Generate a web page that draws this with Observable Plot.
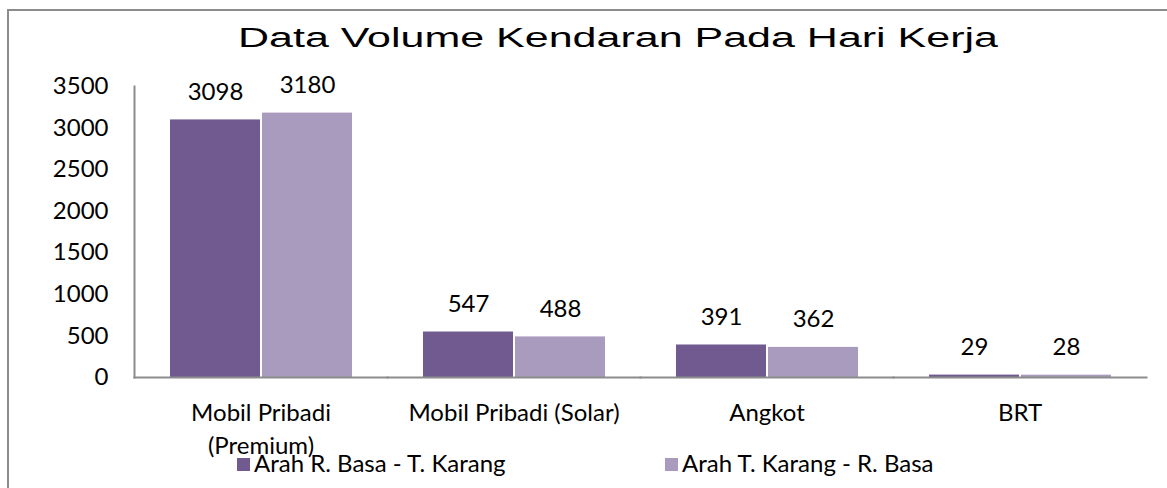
<!DOCTYPE html>
<html>
<head>
<meta charset="utf-8">
<script src="https://cdn.jsdelivr.net/npm/d3@7"></script>
<script src="https://cdn.jsdelivr.net/npm/@observablehq/plot@0.6"></script>
<style>
  body { margin: 0; background: #fff; }
  #wrap { position: relative; width: 1167px; height: 488px; overflow: hidden; background: #fff; }
  #frame { position: absolute; left: 7px; top: 9px; width: 1200px; height: 520px;
           border-left: 2px solid #8c8c8c; border-top: 2px solid #8c8c8c; box-sizing: border-box; }
  #title { position: absolute; left: 618px; top: 23px; font-family: "Liberation Sans", Arial, sans-serif;
           font-size: 27px; line-height: 30px; white-space: nowrap; color: #000; transform-origin: 50% 50%; }
  #chart { position: absolute; left: 0; top: 58px; }
  .leg { position: absolute; font-family: Lato, sans-serif; font-size: 24px; line-height: 24px; white-space: nowrap; color: #000; }
  .leg .sw { display: inline-block; width: 13px; height: 13px; margin-right: 4px; vertical-align: 1px; }
</style>
</head>
<body>
<div id="wrap">
  <div id="frame"></div>
  <div id="title"></div>
  <div id="chart"></div>
  <div id="legend"></div>
</div>
<script>
const titleText = "Data Volume Kendaran Pada Hari Kerja";
const categories = ["Mobil Pribadi (Premium)", "Mobil Pribadi (Solar)", "Angkot", "BRT"];
const tickLabels = ["Mobil Pribadi\n(Premium)", "Mobil Pribadi (Solar)", "Angkot", "BRT"];
const series = ["Arah R. Basa - T. Karang", "Arah T. Karang - R. Basa"];
const valuesRBasaTKarang = [3098, 547, 391, 29];
const valuesTKarangRBasa = [3180, 488, 362, 28];
const seriesColors = ["#715a8f", "#a99bbd"];
const yTicks = [0, 500, 1000, 1500, 2000, 2500, 3000, 3500];

const data = categories.flatMap((c, i) => [
  {category: c, series: series[0], value: valuesRBasaTKarang[i]},
  {category: c, series: series[1], value: valuesTKarangRBasa[i]}
]);

// title (stretched horizontally like the reference)
const t = document.getElementById("title");
t.textContent = titleText;
const w = t.getBoundingClientRect().width;
t.style.transform = `translateX(-50%) scaleX(${760 / w})`;

const chart = Plot.plot({
  width: 1167,
  height: 390,
  marginLeft: 133,
  marginRight: 21,
  marginTop: 28,
  marginBottom: 71,
  style: {fontFamily: "Lato, sans-serif", fontSize: "24px", color: "#000", background: "transparent", overflow: "visible"},
  fx: {domain: categories, padding: 0, label: null},
  x: {domain: series, paddingInner: 0.022, paddingOuter: 0.386, axis: null},
  y: {domain: [0, 3500], label: null},
  color: {domain: series, range: seriesColors},
  marks: [
    Plot.barY(data, {fx: "category", x: "series", y: "value", fill: "series"}),
    Plot.text(data, {fx: "category", x: "series", y: "value", text: d => String(d.value), dy: -28, fontSize: 24, fill: "#000"}),
    Plot.axisY({ticks: yTicks, tickFormat: d => String(d), tickSize: 0, tickPadding: 26, label: null, fontSize: 24, fill: "#000"}),
    Plot.axisFx({anchor: "bottom", tickSize: 0, tickPadding: 20, label: null, fontSize: 24, lineHeight: 1.38,
                 tickFormat: d => tickLabels[categories.indexOf(d)], fill: "#000"}),
    Plot.frame({anchor: "bottom", stroke: "#8c8c8c", strokeWidth: 2, strokeOpacity: 1}),
    Plot.frame({anchor: "left", facetAnchor: "left", stroke: "#8c8c8c", strokeWidth: 2, strokeOpacity: 1})
  ]
});
document.getElementById("chart").appendChild(chart);

// legend
const legendX = [237, 665];
const legend = document.getElementById("legend");
series.forEach((s, i) => {
  const item = document.createElement("div");
  item.className = "leg";
  item.style.left = legendX[i] + "px";
  item.style.top = "451px";
  const sw = document.createElement("span");
  sw.className = "sw";
  sw.style.background = seriesColors[i];
  item.appendChild(sw);
  item.appendChild(document.createTextNode(s));
  legend.appendChild(item);
});
</script>
</body>
</html>
